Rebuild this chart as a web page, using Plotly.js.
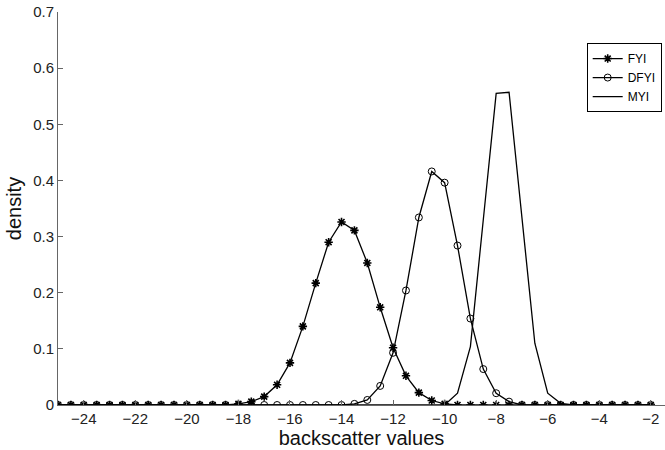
<!DOCTYPE html>
<html>
<head>
<meta charset="utf-8">
<script src="https://cdn.plot.ly/plotly-3.0.1.min.js"></script>
<style>html,body{margin:0;padding:0;background:#fff;}#chart{width:665px;height:450px;}</style>
</head>
<body>
<div id="chart"></div>
<script>
const xValues = [-25, -24.5, -24, -23.5, -23, -22.5, -22, -21.5, -21, -20.5, -20, -19.5, -19, -18.5,
  -18, -17.5, -17, -16.5, -16, -15.5, -15, -14.5, -14, -13.5, -13, -12.5, -12, -11.5, -11, -10.5,
  -10, -9.5, -9, -8.5, -8, -7.5, -7, -6.5, -6, -5.5, -5, -4.5, -4, -3.5, -3, -2.5, -2];

const fyi = [0, 0, 0, 0, 0, 0, 0, 0, 0, 0, 0, 0, 0, 0,
  0.002, 0.006, 0.015, 0.036, 0.075, 0.14, 0.217, 0.29, 0.326, 0.311, 0.253, 0.174, 0.102, 0.052, 0.022, 0.008,
  0.002, 0, 0, 0, 0, 0, 0, 0, 0, 0, 0, 0, 0, 0, 0, 0, 0];

const dfyi = [0, 0, 0, 0, 0, 0, 0, 0, 0, 0, 0, 0, 0, 0,
  0, 0, 0, 0, 0, 0, 0, 0, 0, 0.002, 0.009, 0.034, 0.093, 0.204, 0.334, 0.416,
  0.396, 0.284, 0.154, 0.064, 0.021, 0.006, 0, 0, 0, 0, 0, 0, 0, 0, 0, 0, 0];

const myi = [0, 0, 0, 0, 0, 0, 0, 0, 0, 0, 0, 0, 0, 0,
  0, 0, 0, 0, 0, 0, 0, 0, 0, 0, 0, 0, 0, 0, 0, 0,
  0, 0.021, 0.104, 0.33, 0.555, 0.557, 0.335, 0.11, 0.021, 0.003, 0, 0, 0, 0, 0, 0, 0];

const seriesNames = ['FYI', 'DFYI', 'MYI'];
const xTickVals = [-24, -22, -20, -18, -16, -14, -12, -10, -8, -6, -4, -2];
const yTickVals = [0, 0.1, 0.2, 0.3, 0.4, 0.5, 0.6, 0.7];

const FONT = 'Liberation Sans, Arial, sans-serif';

const traces = [
  {x: xValues, y: fyi, name: seriesNames[0], mode: 'lines+markers', type: 'scatter',
   line: {color: '#000', width: 1.3},
   marker: {symbol: 'asterisk-open', size: 7, color: '#000', line: {color: '#000', width: 1.6}}},
  {x: xValues, y: dfyi, name: seriesNames[1], mode: 'lines+markers', type: 'scatter',
   line: {color: '#000', width: 1.3},
   marker: {symbol: 'circle-open', size: 7, color: '#000', line: {color: '#000', width: 1}}},
  {x: xValues, y: myi, name: seriesNames[2], mode: 'lines', type: 'scatter',
   line: {color: '#000', width: 1.3}}
];

const layout = {
  width: 665, height: 450,
  margin: {l: 58, r: 0, t: 12, b: 45, pad: 0},
  paper_bgcolor: '#fff', plot_bgcolor: '#fff',
  font: {family: FONT, color: '#222', size: 15},
  showlegend: true,
  legend: {x: 0.871, y: 0.921, xanchor: 'left', yanchor: 'top',
    bordercolor: '#000', borderwidth: 1, bgcolor: '#fff',
    font: {family: FONT, size: 12, color: '#000'},
    itemwidth: 30, tracegroupgap: 0},
  xaxis: {
    range: [-25, -1.45], tickvals: xTickVals, ticks: 'inside', ticklen: 5, tickcolor: '#666',
    showline: true, linecolor: '#666', linewidth: 1, showgrid: false, zeroline: false,
    tickfont: {family: FONT, size: 15, color: '#222'},
    title: {text: 'backscatter values', font: {family: FONT, size: 20, color: '#111'}, standoff: 4}
  },
  yaxis: {
    range: [0, 0.7], tickvals: yTickVals, ticks: 'inside', ticklen: 5, tickcolor: '#666',
    showline: true, linecolor: '#666', linewidth: 1, showgrid: false, zeroline: false,
    tickfont: {family: FONT, size: 15, color: '#222'},
    title: {text: 'density', font: {family: FONT, size: 20, color: '#111'}, standoff: 6}
  }
};

Plotly.newPlot('chart', traces, layout, {displayModeBar: false, staticPlot: true});
</script>
</body>
</html>
